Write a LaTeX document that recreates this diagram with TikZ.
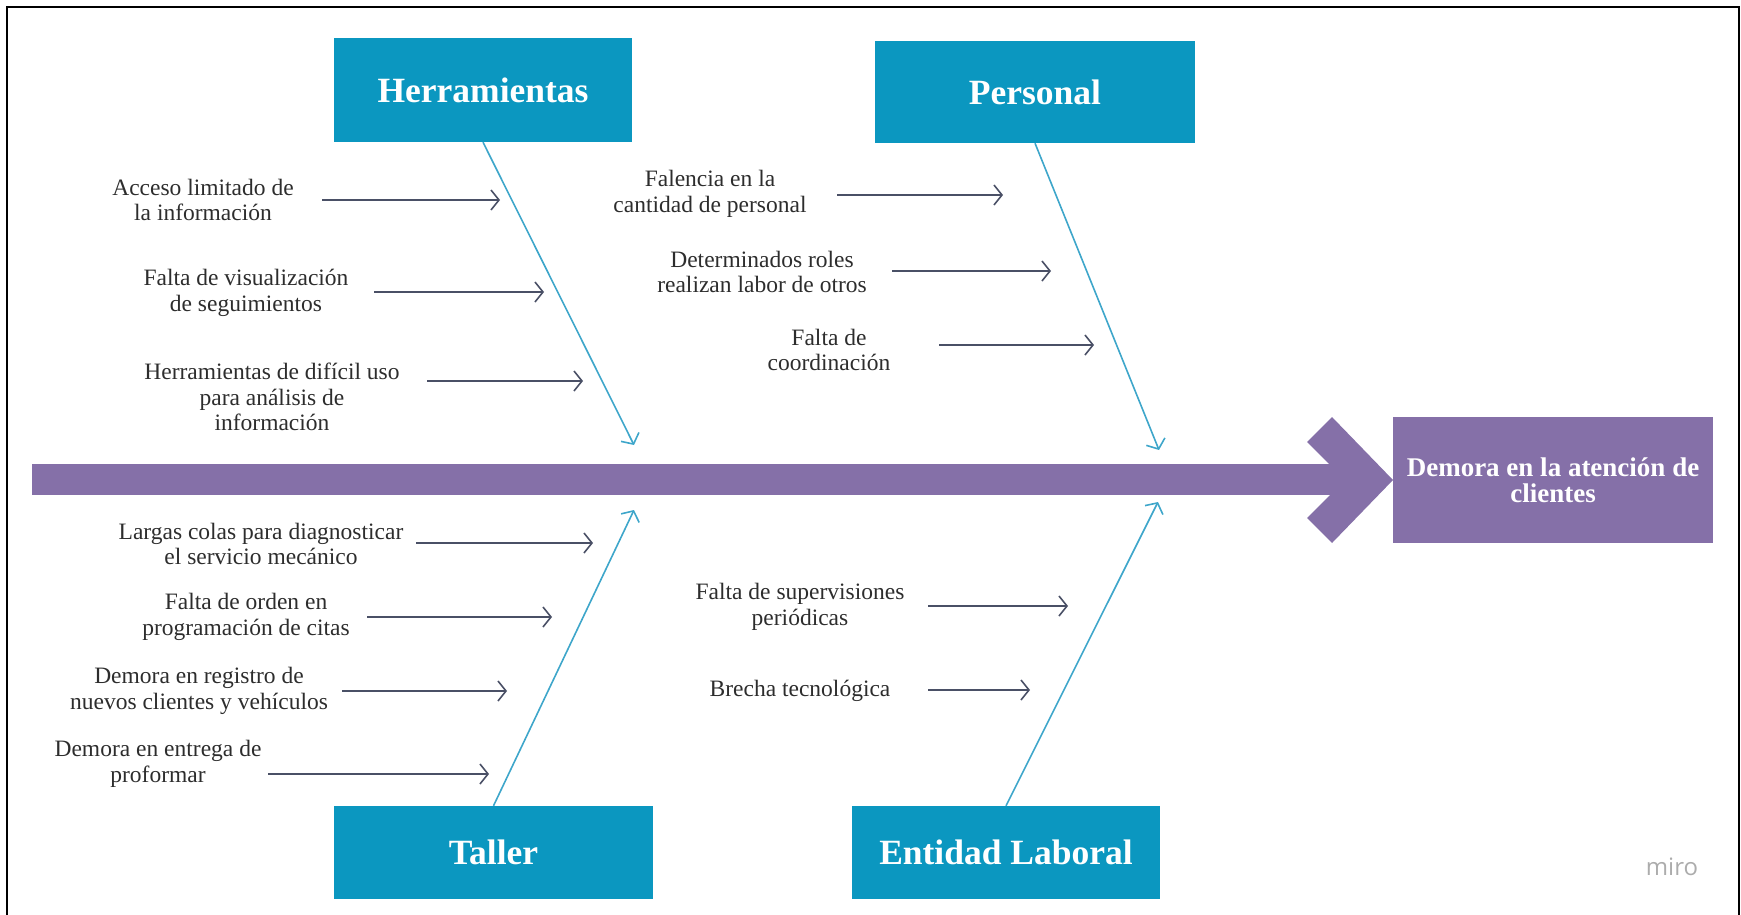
\documentclass[tikz,border=0pt]{standalone}
\usepackage{fontspec}
\setmainfont{Liberation Serif}
\newfontfamily\mirofont{Open Sans}
\usetikzlibrary{arrows.meta}

\definecolor{catblue}{RGB}{11,151,192}
\definecolor{bonecyan}{RGB}{62,166,202}
\definecolor{spine}{RGB}{133,112,168}
\definecolor{subgray}{RGB}{74,80,102}
\definecolor{textgray}{RGB}{45,45,45}
\definecolor{mirogray}{RGB}{172,172,172}

\begin{document}
\begin{tikzpicture}[
    x=1pt, y=-1pt,
    cat/.style={fill=catblue, text=white, inner sep=0pt, font=\fontsize{35.5}{38}\selectfont\bfseries},
    effect/.style={fill=spine, text=white, align=center, inner sep=0pt, minimum width=320pt, minimum height=126pt, font=\fontsize{27}{26.5}\selectfont\bfseries},
    cause/.style={align=center, text=textgray, inner sep=0pt, font=\fontsize{23.5}{25.5}\selectfont},
    sub/.style={draw=subgray, line width=1.6pt, -{Straight Barb[length=8pt,width=20pt]}},
    bone/.style={draw=bonecyan, line width=1.6pt, -{Straight Barb[length=8pt,width=20pt]}}
]
\useasboundingbox (0,0) rectangle (1741,915);
\draw[line width=2pt] (7,915) -- (7,7) -- (1739,7) -- (1739,915);

% spine and head
\fill[spine] (32,464) rectangle (1350,495);
\fill[spine] (1332,417) -- (1393,480) -- (1332,543) -- (1307,518) -- (1345,480) -- (1307,442) -- cycle;
\node[effect] (demora) at (1553,480) {Demora en la atención de\\clientes};

% categories
\node[cat, minimum width=298pt, minimum height=104pt] (herr) at (483,90) {Herramientas};
\node[cat, minimum width=320pt, minimum height=102pt] (pers) at (1035,92) {Personal};
\node[cat, minimum width=319pt, minimum height=93pt] (taller) at (493.5,852.5) {Taller};
\node[cat, minimum width=308pt, minimum height=93pt] (entidad) at (1006,852.5) {Entidad Laboral};

\coordinate (herrTip) at (634,445);
\coordinate (persTip) at (1159,450);
\coordinate (tallerTip) at (634,510);
\coordinate (entidadTip) at (1158,502);
\draw[bone] (herr.south) -- (herrTip);
\draw[bone] (pers.south) -- (persTip);
\draw[bone] (taller.north) -- (tallerTip);
\draw[bone] (entidad.north) -- (entidadTip);

% Herramientas
\node[cause] (acceso) at (203,200) {Acceso limitado de\\la información};
\node[cause] (visual) at (246,293) {Falta de visualización\\de seguimientos};
\node[cause] (dificil) at (272,397) {Herramientas de difícil uso\\para análisis de\\información};
\coordinate (accesoEnd) at (500,200);
\coordinate (visualEnd) at (544,292);
\coordinate (dificilEnd) at (583,381);
\draw[sub] (acceso.center |- accesoEnd) ++(119,0) -- (accesoEnd);
\draw[sub] (visual.center |- visualEnd) ++(128,0) -- (visualEnd);
\draw[sub] (dificil.center |- dificilEnd) ++(155,0) -- (dificilEnd);

% Personal
\node[cause] (falencia) at (710,194) {Falencia en la\\cantidad de personal};
\node[cause] (roles) at (762,272) {Determinados roles\\realizan labor de otros};
\node[cause] (coord) at (829,350) {Falta de\\coordinación};
\coordinate (falenciaEnd) at (1003,195);
\coordinate (rolesEnd) at (1051,271);
\coordinate (coordEnd) at (1094,345);
\draw[sub] (falencia.center |- falenciaEnd) ++(127,0) -- (falenciaEnd);
\draw[sub] (roles.center |- rolesEnd) ++(130,0) -- (rolesEnd);
\draw[sub] (coord.center |- coordEnd) ++(110,0) -- (coordEnd);

% Taller
\node[cause] (colas) at (261,544) {Largas colas para diagnosticar\\el servicio mecánico};
\node[cause] (orden) at (246,617) {Falta de orden en\\programación de citas};
\node[cause] (registro) at (199,691) {Demora en registro de\\nuevos clientes y vehículos};
\node[cause] (proforma) at (158,764) {Demora en entrega de\\proformar};
\coordinate (colasEnd) at (593,543);
\coordinate (ordenEnd) at (552,617);
\coordinate (registroEnd) at (507,691);
\coordinate (proformaEnd) at (489,774);
\draw[sub] (colas.center |- colasEnd) ++(155,0) -- (colasEnd);
\draw[sub] (orden.center |- ordenEnd) ++(121,0) -- (ordenEnd);
\draw[sub] (registro.center |- registroEnd) ++(143,0) -- (registroEnd);
\draw[sub] (proforma.center |- proformaEnd) ++(110,0) -- (proformaEnd);

% Entidad Laboral
\node[cause] (superv) at (800,607) {Falta de supervisiones\\periódicas};
\node[cause] (brecha) at (800,691) {Brecha tecnológica};
\coordinate (supervEnd) at (1068,606);
\coordinate (brechaEnd) at (1030,690);
\draw[sub] (superv.center |- supervEnd) ++(128,0) -- (supervEnd);
\draw[sub] (brecha.center |- brechaEnd) ++(128,0) -- (brechaEnd);

\node[text=mirogray, font=\mirofont\fontsize{24}{24}\selectfont] (miro) at (1672,867) {miro};
\end{tikzpicture}
\end{document}
